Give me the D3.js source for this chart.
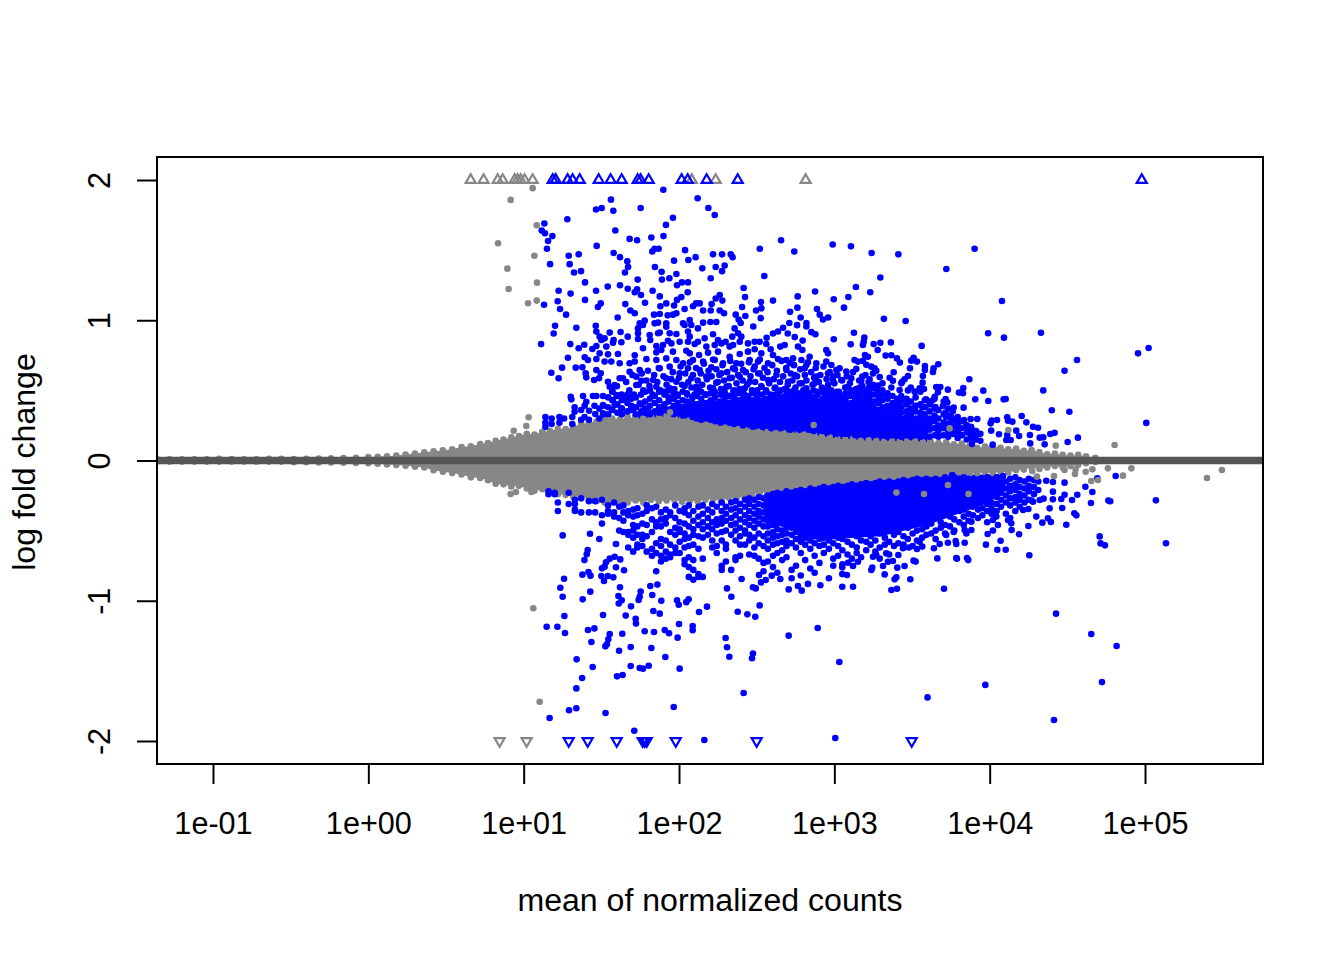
<!DOCTYPE html>
<html>
<head>
<meta charset="utf-8">
<script src="https://cdn.jsdelivr.net/npm/d3@7"></script>
<style>
  html, body { margin: 0; padding: 0; background: #fff; }
  text { font-family: "Liberation Sans", Arial, sans-serif; }
</style>
</head>
<body>
<svg id="chart" width="1344" height="960"></svg>
<script>
// Values. x values are log10(mean of normalized counts), y values are log fold change.
const xTicks = [1e-1, 1e0, 1e1, 1e2, 1e3, 1e4, 1e5];
const xTickLabels = ["1e-01", "1e+00", "1e+01", "1e+02", "1e+03", "1e+04", "1e+05"];
const yTicks = [-2, -1, 0, 1, 2];

// gray cloud outline: log mean, upper lfc, lower lfc
const cloudEdge = [
  [-1.36,.008,-.008],[-1.28,.008,-.008],[-1.2,.008,-.008],[-1.12,.008,-.008],[-1.04,.008,-.008],[-.96,.012,-.008],[-.88,.01,-.008],[-.8,.008,-.008],[-.72,.008,-.008],
  [-.64,.012,-.008],[-.56,.012,-.008],[-.48,.01,-.012],[-.4,.012,-.012],[-.32,.014,-.014],[-.24,.016,-.014],[-.16,.018,-.016],[-.08,.02,-.018],[0,.024,-.02],
  [.06,.026,-.024],[.12,.03,-.028],[.18,.036,-.032],[.24,.042,-.038],[.3,.05,-.045],[.36,.058,-.05],[.42,.066,-.07],[.48,.072,-.08],[.54,.08,-.09],[.6,.096,-.1],[.66,.102,-.12],
  [.72,.118,-.125],[.77,.125,-.14],[.82,.14,-.165],[.87,.15,-.17],[.92,.165,-.185],[.97,.175,-.18],[1.02,.19,-.2],[1.07,.185,-.215],
  [1.12,.205,-.205],[1.17,.21,-.225],[1.22,.225,-.24],[1.27,.225,-.245],[1.32,.24,-.26],[1.37,.26,-.255],[1.42,.27,-.28],[1.47,.28,-.29],
  [1.52,.31,-.30],[1.57,.30,-.295],[1.62,.295,-.31],[1.67,.31,-.30],[1.72,.30,-.285],[1.77,.30,-.30],[1.82,.31,-.28],[1.87,.305,-.29],
  [1.92,.32,-.285],[1.97,.31,-.28],[2.02,.30,-.295],[2.07,.295,-.285],[2.12,.28,-.29],[2.17,.285,-.28],[2.22,.27,-.275],[2.27,.26,-.285],
  [2.32,.255,-.265],[2.37,.24,-.27],[2.42,.235,-.255],[2.47,.225,-.245],[2.52,.215,-.23],[2.57,.205,-.225],[2.62,.21,-.21],[2.67,.205,-.215],
  [2.72,.195,-.20],[2.77,.20,-.205],[2.82,.21,-.19],[2.87,.185,-.195],[2.92,.17,-.185],[2.97,.165,-.18],[3.02,.155,-.175],[3.07,.15,-.17],
  [3.12,.155,-.165],[3.17,.14,-.16],[3.22,.145,-.15],[3.27,.14,-.16],[3.32,.135,-.155],[3.37,.14,-.14],[3.42,.135,-.145],[3.47,.14,-.135],
  [3.52,.14,-.14],[3.57,.13,-.13],[3.62,.135,-.125],[3.67,.125,-.12],[3.72,.13,-.115],[3.77,.115,-.115],[3.82,.12,-.10],[3.87,.105,-.095],
  [3.92,.09,-.09],[3.97,.10,-.085],[4.02,.105,-.09],[4.07,.09,-.08],[4.12,.08,-.085],[4.17,.085,-.07],[4.22,.07,-.065],[4.27,.075,-.05],
  [4.32,.06,-.06],[4.37,.045,-.05],[4.42,.05,-.04],[4.47,.04,-.05],[4.52,.035,-.04],[4.57,.04,-.03],[4.62,.03,-.02],[4.68,.02,-.01]
];

// solid blue cores where the dots merge: log mean, inner lfc, outer lfc
const upCore = [[1.7,.2,.33],[1.9,.2,.38],[2.1,.2,.42],[2.4,.15,.44],[2.7,.15,.46],[3.0,.12,.44],[3.3,.1,.38],[3.5,.1,.28],[3.6,.1,.2]];
const downCore = [[2.55,-.15,-.42],[2.8,-.12,-.52],[3.0,-.1,-.56],[3.3,-.1,-.54],[3.6,-.1,-.46],[3.8,-.1,-.38],[4.0,-.1,-.30],[4.1,-.1,-.2]];

// gray single points away from the cloud
const grayPoints = [
  [1.058,1.942],[.916,1.858],[1.084,1.677],[.835,1.549],[1.069,1.46],[.895,1.368],[1.086,1.268],[.903,1.223],[1.028,1.121],[1.084,1.14],
  [1.032,.308],[1.017,.246],[.936,.212],[1.942,.343],[2.867,.253],[4.12,.217],[3.742,.229],[4.425,.106],[4.804,.11],
  [1.062,-1.054],[1.103,-1.72],[.916,-.239],[.95,-.225],[1.05,-.225],[5.399,-.125],[5.495,-.068],[4.912,-.056],[4.858,-.108],[4.761,-.056],
  [4.654,-.146],[4.697,-.139],[4.661,-.063],[4.618,-.08],[4.553,-.063],[4.549,-.096],[4.482,-.068],[4.414,-.111],[4.304,-.115],[4.274,-.075],
  [3.399,-.229],[3.577,-.239],[3.864,-.239],[3.731,-.175]
];

// blue single points, upper half
const blueUp = [
  [1.899,1.93],[1.562,1.86],[1.466,1.79],[1.502,1.80],[1.577,1.78],[1.753,1.80],[2.12,1.87],[2.189,1.80],[2.23,1.75],[1.961,1.73],[1.916,1.68],
  [1.281,1.72],[1.133,1.69],[1.116,1.64],[1.137,1.62],[1.185,1.60],[1.157,1.565],[1.15,1.51],[1.59,1.64],[1.682,1.58],[1.73,1.57],[1.822,1.59],
  [1.90,1.60],[1.47,1.53],[2.657,1.57],[2.742,1.49],[2.989,1.54],[2.52,1.51],[1.579,1.48],[1.62,1.45],[1.667,1.42],[1.672,1.38],[1.652,1.34],
  [1.29,1.46],[1.354,1.47],[1.296,1.40],[1.17,1.40],[1.324,1.34],[1.369,1.35],[1.395,1.27],[1.843,1.51],[1.869,1.51],[1.828,1.49],[2.039,1.50],
  [1.968,1.425],[2.06,1.43],[2.107,1.45],[2.219,1.47],[2.277,1.47],[2.333,1.47],[2.345,1.45],[1.845,1.38],[1.888,1.345],[1.89,1.29],[1.938,1.30],
  [1.983,1.33],[2.15,1.37],[2.236,1.38],[2.294,1.39],[2.277,1.35],[2.204,1.30],[2.549,1.315],[1.734,1.29],[1.987,1.25],[2.019,1.27],[2.058,1.27],
  [1.62,1.25],[1.67,1.225],[1.541,1.24],[1.466,1.21],[1.225,1.21],[1.302,1.19],[1.73,1.22],[1.715,1.20],[1.755,1.18],[1.83,1.21],[1.876,1.17],
  [2.056,1.20],[2.416,1.23],[2.425,1.165],[2.876,1.205],[2.996,1.15],[2.764,1.17],[2.605,1.14],[2.528,1.13],[2.262,1.18],[2.236,1.155],[2.279,1.14],
  [1.219,1.135],[1.131,1.11],[1.395,1.145],[1.234,1.08],[1.273,1.04],[1.496,1.12],[1.478,1.095],[1.654,1.115],[1.781,1.125],[1.687,1.07],[1.715,1.05],
  [1.987,1.145],[2.015,1.165],[1.918,1.12],[1.88,1.10],[1.968,1.105],[2.11,1.12],[2.133,1.12],[2.09,1.10],[2.036,1.08],[2.155,1.07],[2.21,1.115],
  [2.204,1.07],[2.262,1.07],[2.29,1.05],[2.406,1.095],[2.53,1.085],[2.496,1.07],[2.526,1.015],[2.762,1.09],[2.715,1.06],[2.888,1.08],[2.783,1.02],
  [2.906,1.04],[2.927,1.005],[2.96,1.02],[2.365,1.04],[2.384,1.005],[2.397,.98],[2.427,1.03],[1.839,1.04],[1.876,1.045],[1.927,1.035],[1.983,1.05],
  [1.961,1.04],[1.605,1.02],[1.202,.96],[1.193,.905],[1.339,.947],[1.464,.96],[1.112,.83],[1.30,.83],[1.354,.80],[1.39,.825],[2.996,.865],[2.796,.855],
  [2.82,.98],[2.82,.955],[2.852,.915],[2.878,.90],[2.71,.98],[2.76,.965],[2.70,.905],[2.745,.88],[2.605,.905],[2.637,.92],[2.67,.947],[2.564,.875],[2.478,.955],
  [3.107,1.527],[3.24,1.48],[3.412,1.47],[3.903,1.51],[3.721,1.365],[3.296,1.305],[3.139,1.237],[3.231,1.20],
  [3.09,1.166],[3.062,1.09],[4.079,1.137],[3.319,1.01],[3.459,.995],[3.126,.911],[3.193,.876],[3.189,.847],[3.184,.823],[3.105,.828],[3.253,.83],
  [3.296,.84],[3.364,.842],[3.279,.788],[3.562,.817],[3.99,.907],[4.092,.876],[4.33,.911],[4.955,.764],[5.023,.802],[4.562,.717],[4.482,.64],[4.345,.50],
  [4.40,.358],[4.513,.348],[5.008,.268],[3.197,.752],[3.216,.74],[3.33,.748],[3.367,.75],[3.403,.728],[3.422,.698],[3.495,.712],[3.51,.733],[3.532,.705],
  [3.13,.717],[3.184,.71],[3.152,.705],[3.206,.682],[3.034,.657],[3.077,.634],[3.141,.653],[3.238,.669],[3.259,.657],[3.27,.64],[3.249,.62],[3.583,.674],
  [3.583,.645],[3.639,.657],[3.635,.631],[3.669,.686],[3.382,.629],[3.487,.657],[3.474,.602],[3.452,.579],[3.57,.602],[3.568,.555],[3.869,.579],[3.356,.59],
  [3.377,.569],[3.292,.595],[3.109,.586],[3.18,.598],[3.227,.579],[3.173,.569],[3.437,.562],[3.281,.534],[3.249,.515],[3.163,.52],[3.088,.526],[3.045,.574],
  [3.656,.524],[3.682,.524],[3.731,.505],[3.577,.51],[3.549,.515],[3.517,.491],[3.474,.50],[3.42,.503],[3.367,.52],[3.83,.517],[3.802,.484],[3.828,.479],
  [3.959,.498],[3.667,.486],[3.646,.455],[3.63,.427],[3.59,.436],[3.716,.438],[3.727,.415],[3.907,.436],[3.991,.424],[4.09,.436],[4.103,.438],[3.699,.389],
  [3.768,.377],[3.832,.377],[3.65,.381],[3.566,.381],[3.523,.389],[3.716,.341],[3.753,.308],[3.72,.308],[3.785,.27],[3.834,.289],[3.877,.296],[3.92,.296],
  [3.85,.253],[3.882,.222],[3.86,.217],[3.892,.213],[4.013,.284],[4.006,.265],[4.047,.289],[4.113,.308],[4.118,.284],[4.146,.277],[4.206,.317],[4.236,.272],
  [4.279,.241],[4.311,.234],[4.01,.213],[4.06,.187],[4.113,.182],[4.107,.146],[4.135,.146],[4.171,.213],[4.189,.175],[4.259,.182],[4.261,.122],[4.322,.163],
  [4.345,.165],[4.354,.115],[4.39,.189],[4.418,.197],[4.502,.132],[4.568,.163],[3.886,.118],[4.019,.113],[3.764,.194],[3.796,.229],[3.742,.265],[3.774,.189],[3.817,.182]
];

// blue points in the busy middle of the upper half
const blueMid = [
  [1.747,.978],[1.779,.997],[1.768,.966],[1.736,.942],[1.865,.983],[1.843,.978],[1.918,.978],[1.918,.954],[2.026,.978],[2.036,.966],[2.069,1.002],[2.079,.966],
  [2.155,.983],[2.202,.988],[2.24,.988],[2.358,.942],[2.401,.883],[2.343,.883],[2.38,.907],[1.468,.919],[1.489,.883],[1.554,.912],[1.624,.916],[1.67,.883],
  [1.736,.907],[1.736,.866],[1.811,.895],[1.815,.859],[1.865,.907],[1.876,.912],[1.94,.907],[1.983,.902],[2.058,.919],[2.069,.883],[2.058,.847],[2.122,.942],
  [2.219,.9],[2.165,.871],[2.122,.847],[2.251,.859],[2.3,.847],[2.348,.824],[2.391,.847],[2.444,.835],[2.487,.847],[2.519,.847],[2.562,.831],[2.652,.812],
  [2.68,.824],[2.766,.812],[2.794,.788],[1.5,.859],[1.521,.871],[1.579,.859],[1.629,.843],[1.468,.816],[1.442,.795],[1.532,.812],[1.575,.84],[1.768,.8],
  [1.854,.816],[1.897,.824],[1.951,.835],[2.004,.847],[1.929,.854],[2.101,.831],[2.176,.812],[2.23,.824],[2.273,.835],[2.326,.812],[1.489,.764],[1.543,.757],
  [1.607,.759],[1.715,.75],[1.854,.771],[1.886,.788],[1.961,.776],[2.047,.783],[2.069,.764],[2.129,.752],[2.187,.769],[2.251,.776],[2.326,.74],[2.391,.759],
  [2.444,.776],[2.487,.793],[2.53,.764],[2.59,.793],[2.605,.752],[2.637,.724],[2.691,.717],[2.734,.728],[2.788,.717],[2.841,.74],[2.948,.788],[2.959,.764],
  [1.285,.733],[1.393,.736],[1.414,.717],[1.468,.724],[1.521,.705],[1.564,.705],[1.618,.693],[1.682,.693],[1.715,.705],[1.79,.724],[1.854,.717],[1.918,.728],
  [1.983,.717],[2.026,.693],[2.09,.717],[2.155,.705],[2.23,.717],[2.283,.693],[2.369,.693],[2.455,.717],[2.509,.705],[2.573,.693],[2.712,.693],[2.82,.681],
  [2.884,.693],[2.948,.705],[2.981,.681],[1.247,.662],[1.178,.626],[1.225,.586],[1.335,.662],[1.378,.664],[1.399,.622],[1.403,.593],[1.468,.645],[1.496,.622],
  [1.453,.574],[1.485,.586],[1.543,.562],[1.586,.538],[1.618,.586],[1.682,.633],[1.747,.645],[1.8,.64],[1.876,.657],[1.94,.669],[2.004,.622],[2.058,.657],
  [2.133,.645],[2.208,.664],[2.273,.622],[2.348,.657],[2.412,.645],[2.487,.669],[2.519,.622],[2.627,.61],[2.691,.645],[2.745,.61],[2.809,.657],[2.884,.598],
  [2.959,.622],[3.013,.645],[1.639,.586],[1.725,.598],[1.758,.569],[1.833,.574],[1.918,.586],[1.983,.562],[2.079,.586],[2.176,.598],[2.24,.555],[2.326,.586],
  [2.391,.598],[2.455,.562],[2.573,.574],[2.702,.562],[2.777,.55],[2.873,.55],[2.991,.574],[1.554,.526],[1.725,.538],[1.854,.526],[1.94,.515],[2.036,.531],
  [2.112,.526],[2.219,.515],[2.305,.526],[2.423,.515],[2.53,.526],[2.616,.515],[2.691,.503],[2.82,.515],[2.927,.503],[1.303,.455],[1.307,.436],[1.382,.46],
  [1.446,.46],[1.468,.46],[1.511,.46],[1.403,.419],[1.393,.391],[1.328,.379],[1.511,.396],[1.421,.355],[1.328,.348],[1.511,.336],[1.461,.332],[1.575,.431],
  [1.597,.467],[1.65,.443],[1.682,.45],[1.586,.396],[1.693,.384],[1.629,.372],[1.747,.408],[1.8,.372],[1.704,.36]
];

// more estimated points in the band just above the solid core
const blueBand = [
  [1.57,.49],[1.60,.53],[1.63,.47],[1.66,.56],[1.68,.50],[1.71,.47],[1.70,.61],[1.74,.54],[1.77,.50],[1.79,.57],[1.76,.62],[1.81,.53],[1.83,.47],[1.84,.61],[1.86,.56],[1.88,.50],
  [1.87,.66],[1.90,.60],[1.92,.54],[1.91,.49],[1.95,.58],[1.96,.63],[1.97,.51],[1.99,.47],[2.00,.59],[2.01,.67],[2.02,.54],[2.04,.62],[2.05,.48],[2.06,.56],[2.07,.70],[2.08,.52],
  [2.09,.61],[2.10,.47],[2.11,.66],[2.12,.57],[2.13,.50],[2.14,.62],[2.15,.54],[2.16,.69],[2.17,.47],[2.18,.58],[2.19,.64],[2.20,.52],[2.21,.60],[2.22,.72],[2.23,.49],[2.24,.65],
  [2.25,.56],[2.26,.61],[2.27,.51],[2.28,.68],[2.29,.57],[2.30,.47],[2.31,.63],[2.32,.53],[2.33,.71],[2.34,.59],[2.35,.49],[2.36,.65],[2.37,.55],[2.38,.61],[2.39,.51],[2.40,.69],
  [2.41,.57],[2.42,.47],[2.43,.63],[2.44,.54],[2.45,.70],[2.46,.60],[2.47,.50],[2.48,.65],[2.49,.56],[2.50,.47],[2.51,.62],[2.52,.72],[2.53,.53],[2.54,.59],[2.55,.66],[2.56,.50],
  [2.57,.63],[2.58,.55],[2.59,.47],[2.60,.68],[2.61,.58],[2.62,.52],[2.63,.64],[2.64,.48],[2.65,.56],[2.66,.71],[2.67,.60],[2.68,.51],[2.69,.66],[2.70,.54],[2.71,.48],[2.72,.62],
  [2.73,.57],[2.74,.68],[2.75,.52],[2.76,.60],[2.77,.47],[2.78,.65],[2.79,.55],[2.80,.50],[2.81,.61],[2.82,.57],[2.83,.70],[2.84,.48],[2.85,.63],[2.86,.54],[2.87,.59],[2.88,.66],
  [2.89,.49],[2.90,.56],[2.91,.61],[2.92,.52],[2.93,.67],[2.94,.47],[2.95,.58],[2.96,.54],[2.97,.63],[2.98,.50],[2.99,.60],[3.00,.55],[3.02,.61],[3.03,.49],[3.05,.57],[3.07,.52],
  [3.08,.60],[3.10,.55],[3.12,.63],[3.14,.51],[3.16,.57],[3.18,.53],[3.20,.61],[3.22,.56],[3.25,.54],[3.28,.50],[3.31,.55]
];

// blue single points, lower half
const blueDown = [
  [1.251,-.534],[1.427,-.522],[1.487,-.56],[1.594,-.595],[1.412,-.638],[1.406,-.669],[1.391,-.71],[1.53,-.726],[1.554,-.70],[1.586,-.686],[1.622,-.705],
  [1.521,-.757],[1.504,-.769],[1.594,-.762],[1.646,-.783],[1.378,-.814],[1.417,-.795],[1.43,-.821],[1.5,-.824],[1.517,-.859],[1.542,-.824],[1.577,-.833],
  [1.26,-.843],[1.236,-.907],[1.251,-.971],[1.262,-1.109],[1.429,-.935],[1.38,-.99],[1.62,-.904],[1.61,-.966],[1.631,-.997],[1.612,-1.02],[1.691,-1.04],
  [1.511,-1.102],[1.657,-1.106],[1.721,-1.128],[1.723,-1.163],[1.753,-.934],[1.747,-.971],[1.74,-.995],[1.815,-.895],[1.861,-.885],[1.828,-.959],[1.886,-1.0],
  [1.835,-1.073],[1.876,-1.092],[1.987,-.997],[1.998,-1.028],[2.047,-1.01],[2.062,-.99],[2.18,-1.042],[2.129,-1.08],[2.0,-1.166],[2.088,-1.18],[2.088,-1.21],
  [2.309,-.912],[2.337,-.971],[2.519,-1.033],[2.378,-1.078],[2.44,-1.097],[2.491,-1.114],[2.403,-.845],[2.476,-.904],[2.494,-.912],[2.528,-.869],[2.558,-.852],
  [2.597,-.821],[2.652,-.845],[2.515,-.816],[2.706,-.919],[2.766,-.895],[2.79,-.928],[2.83,-.88],[2.91,-.89],[1.148,-1.185],[1.217,-1.185],[1.266,-1.23],
  [1.414,-1.209],[1.455,-1.197],[1.554,-1.237],[1.545,-1.275],[1.536,-1.31],[1.526,-1.325],[1.635,-1.235],[1.436,-1.294],[1.779,-1.218],[1.839,-1.223],
  [1.908,-1.209],[1.936,-1.232],[1.991,-1.263],[1.689,-1.33],[1.614,-1.356],[1.822,-1.337],[1.912,-1.401],[2.3,-1.266],[2.309,-1.332],[2.324,-1.399],
  [2.476,-1.377],[2.47,-1.41],[2.706,-1.249],[2.893,-1.194],[1.341,-1.418],[1.444,-1.472],[1.689,-1.465],[1.747,-1.48],[1.768,-1.484],[1.805,-1.463],
  [2.004,-1.484],[1.601,-1.539],[1.637,-1.529],[1.376,-1.551],[1.339,-1.625],[2.416,-1.658],[3.032,-1.437],[1.966,-1.758],[1.292,-1.781],[1.339,-1.767],
  [1.167,-1.836],[1.527,-1.8],[1.712,-1.927],[2.163,-1.993],[3.006,-1.979],[4.427,-1.092],[4.654,-1.237],[4.817,-1.323],[4.723,-1.58],[4.414,-1.85],
  [3.972,-1.6],[3.6,-1.689],[3.706,-.914],[3.367,-.923],[3.403,-.914],[3.489,-.847],[3.388,-.847],[3.399,-.833],[3.324,-.812],[3.081,-.816],
  [3.051,-.81],[3.051,-.9],[3.12,-.9],[3.238,-.781],[3.244,-.764],[3.313,-.752],[3.345,-.722],[3.452,-.752],[3.405,-.764],[3.377,-.717],[3.51,-.714],[3.523,-.721],
  [3.663,-.698],[3.785,-.695],[3.789,-.7],[3.854,-.695],[3.862,-.71],[4.255,-.676],[4.708,-.541],[4.714,-.591],[4.742,-.605],[5.135,-.59],[5.07,-.284],
  [4.764,-.286],[4.776,-.291],[3.976,-.6],[4.049,-.636],[4.103,-.636],[4.07,-.572],[4.189,-.526],[4.141,-.496],[4.249,-.467],[4.021,-.5],[3.987,-.524],
  [4.493,-.458],[4.394,-.439],[4.375,-.412],[4.339,-.443],[4.3,-.4],[4.558,-.391],[4.545,-.377],[4.467,-.339],[4.386,-.341],[4.652,-.303],[4.53,-.282],
  [4.461,-.275],[4.407,-.277],[4.347,-.272],[4.661,-.225],[4.564,-.244],[4.482,-.244],[4.616,-.187],[4.407,-.222],[4.482,-.158],[4.407,-.153],[4.364,-.144],
  [4.811,-.11],[4.693,-.127],[4.279,-.294],[4.268,-.286],[4.322,-.282],[4.249,-.346],[4.215,-.353],[4.053,-.46],[4.139,-.448],[4.118,-.424],[3.882,-.496],
  [3.839,-.496],[3.85,-.52],[3.781,-.574],[3.785,-.595],[3.839,-.586],[3.731,-.586],[3.678,-.595],[3.641,-.626],[3.549,-.579],[3.566,-.614],[3.532,-.631],
  [3.48,-.62],[3.442,-.626],[3.768,-.51],[3.72,-.531],[3.882,-.436],[4.021,-.424],[4.043,-.4],[3.412,-.674],[3.334,-.662],[3.27,-.674],[3.249,-.686],
  [3.152,-.722],[3.12,-.752],[3.088,-.729],[3.051,-.762],[4.086,-.11],[3.759,-.103]
];

// crowded part of the upper half near the cloud, as log mean and the lfc values seen there
const denseUp = [
  [1.14,[.31,.27,.24]],[1.18,[.30,.26]],[1.23,[.31,.27]],[1.26,[.30]],[1.313,[.31,.26]],[1.37,[.29,.36]],[1.392,[.31]],[1.42,[.29]],[1.456,[.39]],[1.487,[.37,.30]],[1.514,[.39,.33]],
  [1.544,[.38,.33,.45]],[1.571,[.36,.43,.50]],[1.603,[.34,.40,.46]],[1.632,[.33,.37,.43]],[1.668,[.35,.41,.47]],[1.694,[.36,.39,.44]],[1.722,[.33,.38,.45]],[1.756,[.35,.40,.47]],
  [1.782,[.34,.37,.42,.49]],[1.813,[.33,.39,.44,.50]],[1.844,[.35,.41,.46]],[1.872,[.34,.38,.43,.49]],[1.906,[.36,.40,.47]],[1.933,[.35,.42,.45,.50]],
  [1.966,[.33,.39,.44,.48]],[1.992,[.34,.41,.46]],[2.024,[.32,.38,.43,.49]],[2.053,[.33,.37,.42,.47]],[2.087,[.31,.36,.41,.45]],[2.114,[.30,.35,.40,.46,.50]],
  [2.143,[.29,.34,.39,.44,.49]],[2.176,[.30,.36,.41,.47]],[2.204,[.29,.33,.38,.43,.48]],[2.232,[.28,.35,.40,.45]],[2.267,[.27,.33,.37,.42,.47]],[2.293,[.28,.34,.39,.44,.49]],
  [2.325,[.27,.32,.36,.41,.46]],[2.354,[.26,.31,.35,.40,.45,.50]],[2.386,[.27,.33,.38,.43,.48]],[2.412,[.25,.30,.35,.39,.44,.49]],[2.445,[.26,.31,.36,.41,.46]],
  [2.474,[.24,.29,.33,.38,.43,.48]],[2.503,[.25,.30,.35,.40,.45,.50]],[2.536,[.24,.28,.33,.37,.42,.47]],[2.562,[.25,.30,.34,.39,.44,.49]],[2.594,[.23,.28,.32,.37,.41,.46]],
  [2.624,[.24,.29,.33,.38,.43,.47]],[2.655,[.23,.27,.31,.36,.40,.45,.50]],[2.683,[.24,.28,.33,.37,.42,.46]],[2.716,[.22,.26,.31,.35,.39,.44,.49]],[2.742,[.23,.28,.32,.37,.41,.46,.50]],
  [2.775,[.22,.26,.30,.35,.39,.43,.48]],[2.803,[.23,.27,.32,.36,.41,.45,.49]],[2.834,[.22,.25,.30,.34,.38,.43,.47]],[2.866,[.21,.27,.31,.36,.40,.45,.50]],[2.893,[.22,.26,.29,.34,.38,.42,.47]],
  [2.925,[.21,.25,.31,.35,.39,.44,.49]],[2.952,[.20,.24,.28,.33,.37,.41,.46,.50]],[2.984,[.21,.26,.30,.34,.39,.43,.47]],[3.016,[.19,.24,.28,.32,.36,.41,.45,.49]],[3.043,[.20,.25,.29,.33,.38,.42,.46]],
  [3.072,[.19,.23,.27,.31,.36,.40,.44,.48]],[3.105,[.20,.24,.28,.33,.37,.41,.46,.50]],[3.134,[.18,.23,.27,.31,.35,.39,.43,.47]],[3.163,[.19,.24,.29,.33,.37,.41,.45,.49]],[3.195,[.18,.22,.26,.30,.34,.38,.42,.46,.50]],
  [3.224,[.19,.23,.27,.32,.36,.40,.44,.48,.52]],[3.253,[.18,.22,.26,.30,.34,.38,.42,.47]],[3.285,[.19,.24,.28,.32,.36,.41,.45,.49]],[3.31,[.18,.22,.26,.30,.34,.38,.43,.47,.50]],[3.342,[.17,.23,.27,.31,.35,.39,.44,.48]],
  [3.374,[.18,.22,.25,.29,.33,.37,.41,.46]],[3.403,[.19,.24,.28,.32,.36,.40,.44]],[3.431,[.17,.21,.26,.30,.34,.38,.42,.46,.55]],[3.465,[.18,.23,.27,.31,.35,.40,.44]],[3.492,[.17,.21,.25,.29,.33,.37,.42,.52]],
  [3.523,[.18,.22,.26,.30,.35,.39,.45]],[3.554,[.17,.23,.27,.31,.34,.40,.49]],[3.582,[.18,.21,.25,.29,.33,.43,.38]],[3.613,[.17,.22,.26,.30,.35,.40]],[3.645,[.18,.23,.28,.32,.37,.44]],
  [3.67,[.17,.21,.25,.30,.36]],[3.704,[.18,.23,.27,.33,.42]],[3.733,[.17,.21,.26,.32,.37]],[3.762,[.19,.24,.29,.35]],[3.794,[.16,.21,.26,.31]],[3.82,[.18,.23,.28]],
  [3.853,[.15,.20,.25]],[3.88,[.16,.19,.24]],[3.912,[.15,.21,.18]],[3.94,[.14,.19]]
];

// crowded part of the lower half
const denseDown = [
  [1.16,[-.24,-.22]],[1.20,[-.24,-.23]],[1.22,[-.30,-.36]],[1.29,[-.31,-.23]],[1.33,[-.35,-.31,-.28,-.36]],[1.37,[-.37,-.27]],[1.42,[-.37,-.29]],[1.46,[-.29,-.37]],
  [1.504,[-.28,-.39,-.45]],[1.543,[-.36,-.32,-.38]],[1.582,[-.37,-.40,-.30]],[1.615,[-.33,-.41,-.50]],[1.642,[-.37,-.43,-.51,-.32]],[1.673,[-.39,-.36,-.51,-.62,-.53]],
  [1.705,[-.35,-.40,-.46,-.50,-.55,-.65]],[1.732,[-.34,-.39,-.47,-.60,-.53,-.62]],[1.764,[-.38,-.45,-.53,-.61,-.56]],[1.792,[-.36,-.32,-.46,-.54,-.65]],[1.826,[-.34,-.42,-.51,-.63,-.68]],
  [1.853,[-.33,-.44,-.47,-.59,-.66,-.79]],[1.884,[-.37,-.42,-.47,-.56,-.68,-.72,-.61]],[1.915,[-.35,-.41,-.45,-.57,-.65,-.70]],[1.943,[-.37,-.39,-.51,-.60,-.67,-.69]],
  [1.976,[-.32,-.41,-.48,-.53,-.62,-.66]],[2.004,[-.36,-.44,-.49,-.51,-.58,-.66]],[2.036,[-.34,-.37,-.45,-.52,-.56,-.62,-.71,-.74]],[2.063,[-.32,-.39,-.47,-.55,-.61,-.69,-.76,-.83]],
  [2.092,[-.36,-.43,-.49,-.53,-.60,-.71,-.78,-.85]],[2.125,[-.33,-.40,-.46,-.54,-.63,-.83,-.81]],[2.153,[-.32,-.38,-.44,-.49,-.55,-.70,-.83]],[2.186,[-.35,-.41,-.47,-.53]],
  [2.214,[-.31,-.37,-.44,-.49,-.57,-.62]],[2.243,[-.33,-.42,-.46,-.52,-.61,-.66]],[2.275,[-.30,-.36,-.41,-.45,-.51,-.57,-.75,-.78]],[2.302,[-.33,-.38,-.43,-.50,-.60,-.63,-.72]],
  [2.336,[-.30,-.35,-.41,-.46,-.53,-.78]],[2.364,[-.29,-.34,-.39,-.45,-.50,-.57,-.69,-.71]],[2.393,[-.31,-.36,-.42,-.48,-.54,-.60,-.68]],[2.425,[-.28,-.33,-.39,-.44,-.50,-.52,-.60]],
  [2.452,[-.27,-.31,-.36,-.41,-.46,-.53,-.57,-.67]],[2.485,[-.28,-.33,-.38,-.43,-.48,-.55,-.62,-.68]],[2.513,[-.26,-.31,-.36,-.40,-.45,-.52,-.59,-.70]],[2.544,[-.27,-.32,-.37,-.42,-.47,-.54,-.61,-.73,-.79]],
  [2.572,[-.25,-.29,-.34,-.38,-.43,-.47,-.52,-.57,-.63,-.72]],[2.605,[-.24,-.28,-.33,-.37,-.42,-.46,-.51,-.55,-.60,-.68,-.76]],[2.633,[-.23,-.27,-.31,-.36,-.40,-.45,-.49,-.54,-.59,-.66,-.80]],
  [2.664,[-.24,-.28,-.32,-.37,-.41,-.45,-.50,-.53,-.58,-.64,-.71]],[2.692,[-.22,-.26,-.30,-.35,-.39,-.43,-.48,-.52,-.57,-.61,-.69]],[2.725,[-.23,-.27,-.31,-.35,-.40,-.44,-.48,-.53,-.59,-.78,-.84]],
  [2.753,[-.22,-.26,-.30,-.34,-.38,-.42,-.47,-.51,-.56,-.62,-.75]],[2.784,[-.21,-.25,-.29,-.33,-.37,-.41,-.45,-.50,-.54,-.58,-.66,-.82]],[2.812,[-.22,-.26,-.30,-.34,-.38,-.42,-.46,-.51,-.55,-.60,-.71]],
  [2.845,[-.20,-.24,-.28,-.32,-.36,-.40,-.44,-.48,-.53,-.57,-.63,-.77]],[2.873,[-.21,-.25,-.29,-.33,-.37,-.41,-.45,-.49,-.54,-.59,-.68,-.80]],[2.904,[-.20,-.24,-.27,-.31,-.35,-.39,-.43,-.47,-.52,-.56,-.61,-.73]],
  [2.932,[-.19,-.23,-.27,-.31,-.35,-.39,-.43,-.47,-.51,-.55,-.60,-.66]],[2.965,[-.20,-.24,-.28,-.32,-.36,-.40,-.44,-.48,-.52,-.57,-.63,-.84]],[2.993,[-.19,-.22,-.26,-.30,-.34,-.38,-.42,-.46,-.50,-.54,-.59,-.70,-.75]],
  [3.024,[-.18,-.22,-.26,-.30,-.34,-.38,-.42,-.46,-.50,-.55,-.61,-.68]],[3.052,[-.19,-.23,-.27,-.31,-.35,-.39,-.43,-.47,-.51,-.56,-.64,-.74]],[3.085,[-.18,-.21,-.25,-.29,-.33,-.37,-.41,-.45,-.49,-.53,-.58,-.67]],
  [3.113,[-.17,-.21,-.25,-.29,-.33,-.37,-.41,-.45,-.49,-.53,-.60,-.70]],[3.144,[-.18,-.22,-.26,-.30,-.34,-.38,-.42,-.46,-.50,-.54,-.62,-.66]],[3.172,[-.17,-.20,-.24,-.28,-.32,-.36,-.40,-.44,-.48,-.52,-.57,-.69]],
  [3.205,[-.16,-.20,-.24,-.28,-.32,-.36,-.40,-.44,-.48,-.52,-.58,-.64]],[3.233,[-.17,-.21,-.25,-.29,-.33,-.37,-.41,-.45,-.49,-.54,-.60]],[3.264,[-.16,-.19,-.23,-.27,-.31,-.35,-.39,-.43,-.47,-.51,-.57,-.65]],
  [3.292,[-.15,-.19,-.23,-.27,-.31,-.35,-.39,-.43,-.47,-.52,-.62,-.70]],[3.325,[-.16,-.20,-.24,-.28,-.32,-.36,-.40,-.44,-.48,-.55,-.60]],[3.353,[-.15,-.18,-.22,-.26,-.30,-.34,-.38,-.42,-.46,-.50,-.58,-.67]],
  [3.384,[-.16,-.19,-.23,-.27,-.31,-.35,-.39,-.43,-.47,-.53,-.61]],[3.412,[-.15,-.18,-.22,-.26,-.30,-.34,-.38,-.42,-.46,-.51,-.59]],[3.445,[-.14,-.18,-.22,-.26,-.30,-.34,-.38,-.42,-.46,-.54,-.60]],
  [3.473,[-.15,-.19,-.23,-.27,-.31,-.35,-.39,-.43,-.48,-.56]],[3.504,[-.14,-.17,-.21,-.25,-.29,-.33,-.37,-.41,-.46,-.52,-.61]],[3.532,[-.13,-.17,-.21,-.25,-.29,-.33,-.37,-.41,-.45,-.50,-.57]],
  [3.565,[-.14,-.18,-.22,-.26,-.30,-.34,-.38,-.43,-.49,-.55]],[3.593,[-.13,-.17,-.21,-.25,-.29,-.33,-.37,-.42,-.47,-.53]],[3.624,[-.14,-.18,-.22,-.26,-.30,-.34,-.39,-.45,-.52]],
  [3.652,[-.13,-.16,-.20,-.24,-.28,-.32,-.36,-.41,-.50,-.56]],[3.685,[-.14,-.17,-.21,-.25,-.29,-.33,-.37,-.44,-.48]],[3.713,[-.12,-.16,-.20,-.24,-.28,-.32,-.38,-.46,-.52]],
  [3.744,[-.13,-.17,-.21,-.25,-.29,-.34,-.40,-.47]],[3.772,[-.12,-.16,-.20,-.24,-.28,-.33,-.42,-.50]],[3.805,[-.13,-.17,-.21,-.26,-.30,-.36,-.44]],[3.833,[-.12,-.16,-.20,-.24,-.29,-.35,-.40,-.46]],
  [3.864,[-.13,-.17,-.22,-.26,-.31,-.38,-.43]],[3.892,[-.14,-.18,-.22,-.27,-.33,-.39]],[3.925,[-.15,-.19,-.24,-.30,-.35,-.41]],[3.953,[-.13,-.18,-.23,-.28,-.34,-.39]],
  [3.984,[-.12,-.17,-.22,-.27,-.31,-.36,-.44]],[4.012,[-.14,-.19,-.25,-.30,-.34,-.38]],[4.045,[-.12,-.16,-.21,-.26,-.31,-.36]],[4.073,[-.13,-.18,-.23,-.28,-.33]],[4.104,[-.15,-.20,-.25,-.30,-.38]],
  [4.132,[-.13,-.18,-.22,-.27,-.32,-.41]],[4.165,[-.12,-.17,-.21,-.26,-.30,-.36]],[4.193,[-.14,-.19,-.24,-.28,-.33]],[4.224,[-.15,-.20,-.25,-.30]],[4.252,[-.13,-.18,-.22,-.28]],[4.285,[-.14,-.19,-.24]],[4.313,[-.15,-.21]]
];

// clipped points, drawn as triangles on the edge of the range
const topGray = [.659,.742,.833,.865,.942,.961,.981,1.006,1.058,1.206,2.082,2.236,2.815];
const topBlue = [1.187,1.206,1.283,1.315,1.361,1.483,1.56,1.631,1.734,1.753,1.805,2.017,2.056,2.178,2.378,4.979];
const bottomGray = [.845,1.019];
const bottomBlue = [1.29,1.412,1.599,1.766,1.779,1.792,1.979,2.5,3.498];

const xLabel = "mean of normalized counts";
const yLabel = "log fold change";

// Layout
const margin = {top: 157, right: 81, bottom: 196, left: 157};
const width = 1344 - margin.left - margin.right;
const height = 960 - margin.top - margin.bottom;
const tickFontSize = 30.6;
const titleFontSize = 32.1;
const dotR = 3.3;
const gray = "#878787";
const blue = "#0000ff";

const svg = d3.select("#chart");
const g = svg.append("g").attr("transform", `translate(${margin.left},${margin.top})`);

const x = d3.scaleLog().domain([Math.pow(10, -1.3605), Math.pow(10, 5.7595)]).range([0, width]);
const y = d3.scaleLinear().domain([-2.164, 2.164]).range([height, 0]);
const px = d => x(Math.pow(10, d));

g.append("clipPath").attr("id", "plotArea").append("rect").attr("width", width).attr("height", height);
const plot = g.append("g").attr("clip-path", "url(#plotArea)");

// Helper for a group of dots
const drawDots = function(data, color) {
    plot.append("g").selectAll("circle")
        .data(data)
        .enter()
        .append("circle")
        .attr("cx", d => px(d[0]))
        .attr("cy", d => y(d[1]))
        .attr("r", dotR)
        .attr("fill", color);
}

// Solid blue cores go under the gray cloud
const area = d3.area().x(d => px(d[0])).y0(d => y(d[2])).y1(d => y(d[1]));
plot.append("path").datum(upCore).attr("d", area).attr("fill", blue);
plot.append("path").datum(downCore).attr("d", area).attr("fill", blue);

// Gray cloud
plot.append("path").datum(cloudEdge).attr("d", area).attr("fill", gray);
drawDots(cloudEdge.map(d => [d[0], d[1]]), gray);
drawDots(cloudEdge.map(d => [d[0], d[2]]), gray);

// Blue points
const flatten = cols => cols.flatMap(c => c[1].map(v => [c[0], v]));
drawDots(flatten(denseUp), blue);
drawDots(flatten(denseDown), blue);
drawDots(blueUp, blue);
drawDots(blueMid, blue);
drawDots(blueBand, blue);
drawDots(blueDown, blue);

// Gray singles on top
drawDots(grayPoints, gray);

// Triangles for clipped points
const triangle = d3.symbol().type(d3.symbolTriangle).size(44)();
const drawTriangles = function(data, value, color, flip) {
    plot.append("g").selectAll("path")
        .data(data)
        .enter()
        .append("path")
        .attr("d", triangle)
        .attr("transform", d => `translate(${px(d)},${y(value)})` + (flip ? " rotate(180)" : ""))
        .attr("fill", "none")
        .attr("stroke", color)
        .attr("stroke-width", 2.2);
}
drawTriangles(topGray, 2, gray, false);
drawTriangles(topBlue, 2, blue, false);
drawTriangles(bottomGray, -2, gray, true);
drawTriangles(bottomBlue, -2, blue, true);

// Zero line
plot.append("line")
    .attr("x1", 0).attr("x2", width)
    .attr("y1", y(0)).attr("y2", y(0))
    .attr("stroke", "#565656")
    .attr("stroke-width", 7.5);

// Axes
const xAxis = d3.axisBottom(x).tickValues(xTicks).tickFormat((d, i) => xTickLabels[i]).tickSize(20).tickPadding(28);
const yAxis = d3.axisLeft(y).tickValues(yTicks).tickFormat(d => d).tickSize(20).tickPadding(0);

const gx = g.append("g").attr("transform", `translate(0,${height})`).call(xAxis);
const gy = g.append("g").call(yAxis);
[gx, gy].forEach(a => {
    a.select(".domain").remove();
    a.selectAll("line").attr("stroke", "#000").attr("stroke-width", 2);
    a.selectAll("text").attr("fill", "#000").style("font-size", tickFontSize + "px");
});

// R draws the y tick labels turned by 90 degrees
gy.selectAll("text")
    .attr("x", null).attr("dy", null)
    .attr("text-anchor", "middle")
    .attr("transform", "translate(-47,0) rotate(-90)");

// Plot box
g.append("rect")
    .attr("width", width).attr("height", height)
    .attr("fill", "none").attr("stroke", "#000").attr("stroke-width", 2);

// Axis titles
svg.append("text")
    .attr("x", 710).attr("y", 911)
    .attr("text-anchor", "middle")
    .style("font-size", titleFontSize + "px")
    .text(xLabel);

svg.append("text")
    .attr("transform", "translate(35,462) rotate(-90)")
    .attr("text-anchor", "middle")
    .style("font-size", titleFontSize + "px")
    .text(yLabel);
</script>
</body>
</html>
